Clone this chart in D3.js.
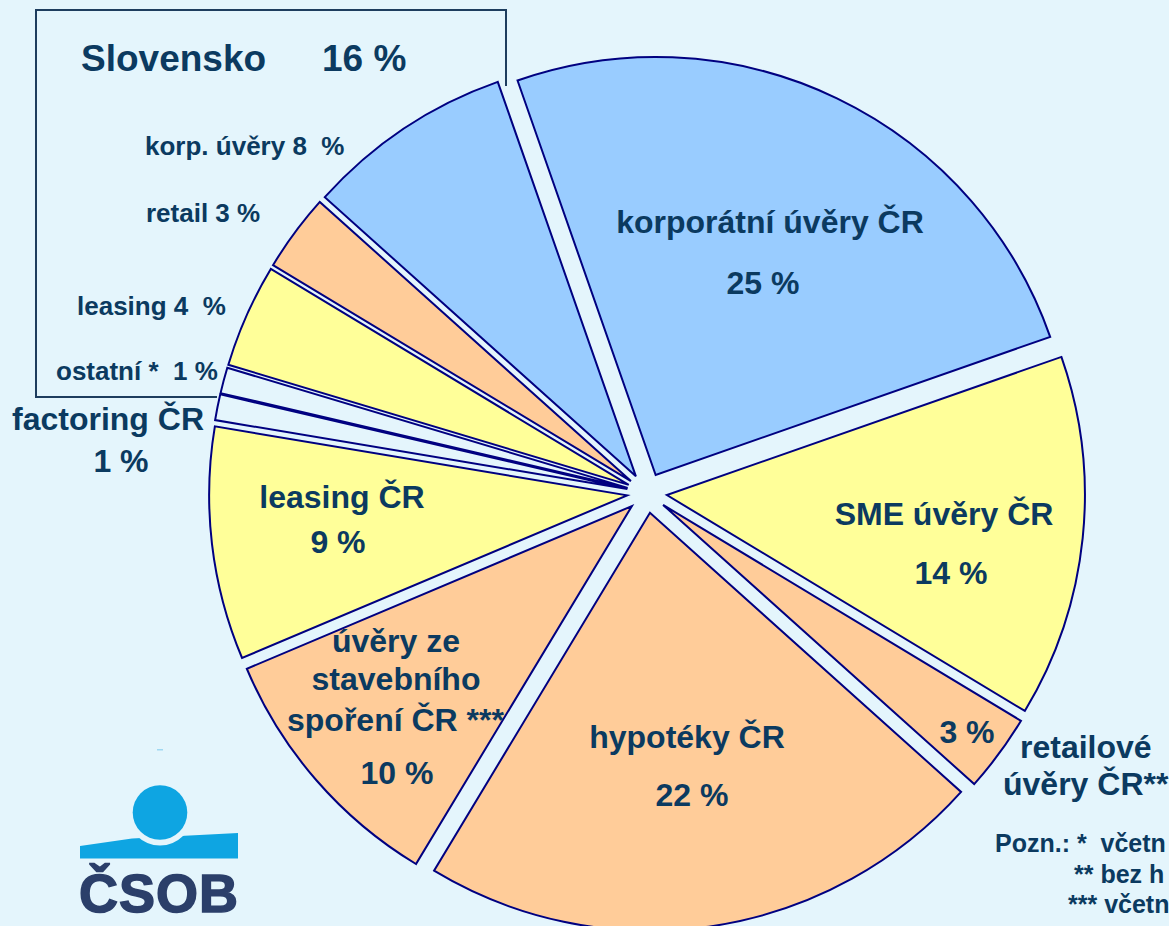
<!DOCTYPE html>
<html>
<head>
<meta charset="utf-8">
<script src="https://cdn.jsdelivr.net/npm/d3@7"></script>
<style>
  body { margin: 0; background: #e4f5fc; }
  svg { display: block; font-family: "Liberation Sans", Arial, sans-serif; font-weight: bold; }
</style>
</head>
<body>
<svg id="chart"></svg>
<script>
// data (order = clockwise from the top)
const categories = [
  'korporátní úvěry ČR', 'SME úvěry ČR', 'retailové úvěry ČR**', 'hypotéky ČR',
  'úvěry ze stavebního spoření ČR ***', 'leasing ČR', 'factoring ČR',
  'ostatní *', 'leasing', 'retail', 'korp. úvěry'
];
const values = [25, 14, 3, 22, 10, 9, 1, 1, 4, 3, 8];
const kinds = ['corp', 'sme', 'retail', 'retail', 'retail', 'leasing', 'other', 'other', 'leasing', 'retail', 'corp'];

// label lines for each slice (same order as values)
const labelLines = [
  ['korporátní úvěry ČR', '25 %'],
  ['SME úvěry ČR', '14 %'],
  ['3 %', 'retailové', 'úvěry ČR**'],
  ['hypotéky ČR', '22 %'],
  ['úvěry ze', 'stavebního', 'spoření ČR ***', '10 %'],
  ['leasing ČR', '9 %'],
  ['factoring ČR', '1 %'],
  ['ostatní *\u00a0\u00a01 %'],
  ['leasing 4\u00a0\u00a0%'],
  ['retail 3 %'],
  ['korp. úvěry 8\u00a0\u00a0%']
];
const groupTitle = ['Slovensko', '16 %'];
// the notes run off the right edge of the slide; only the visible part is kept
const notes = ['Pozn.: *\u00a0\u00a0včetn', '** bez h', '*** včetn'];

const W = 1169, H = 926;
const bg = '#e4f5fc';
const ink = '#0b3a60';
const color = d3.scaleOrdinal()
  .domain(['corp', 'sme', 'retail', 'leasing', 'other'])
  .range(['#99ccff', '#ffff99', '#ffcc99', '#ffff99', bg]);

const cx = 647, cy = 493, radius = 418, explode = 20;
const startAngle = -19.3 * Math.PI / 180;

const svg = d3.select('#chart').attr('width', W).attr('height', H);
svg.append('rect').attr('width', W).attr('height', H).attr('fill', bg);

// box around the Slovak part (drawn behind the pie)
svg.append('path')
  .attr('d', 'M217,397 L36,397 L36,10 L506,10 L506,86')
  .attr('fill', 'none')
  .attr('stroke', '#1d3d5e')
  .attr('stroke-width', 2);

const pie = d3.pie().sort(null).value(d => d)
  .startAngle(startAngle).endAngle(startAngle + 2 * Math.PI);
const arc = d3.arc().innerRadius(0).outerRadius(radius);
const arcs = pie(values);

const g = svg.append('g').attr('transform', `translate(${cx},${cy})`);
g.selectAll('path.slice')
  .data(arcs)
  .enter()
  .append('path')
  .attr('class', 'slice')
  .attr('d', arc)
  .attr('transform', d => {
    const mid = (d.startAngle + d.endAngle) / 2;
    return `translate(${explode * Math.sin(mid)},${-explode * Math.cos(mid)})`;
  })
  .attr('fill', (d, i) => color(kinds[i]))
  .attr('stroke', '#000080')
  .attr('stroke-width', 2)
  .attr('stroke-linejoin', 'miter');

// label placement (x, baseline y, anchor, size) per line, hand-fitted to the picture
const big = 32, small = 26;
const labelPos = [
  [[770, 233, 'middle', big], [763, 294, 'middle', big]],
  [[944, 525, 'middle', big], [951, 584, 'middle', big]],
  [[967, 743, 'middle', big], [1020, 758, 'start', big], [1003, 795, 'start', big]],
  [[687, 748, 'middle', big], [692, 806, 'middle', big]],
  [[396, 652, 'middle', big], [396, 690, 'middle', big], [287, 731, 'start', big], [397, 784, 'middle', big]],
  [[342, 508, 'middle', big], [338, 553, 'middle', big]],
  [[12, 430, 'start', big], [121, 472, 'middle', big]],
  [[56, 380, 'start', small]],
  [[77, 315, 'start', small]],
  [[146, 222, 'start', small]],
  [[145, 155, 'start', small]]
];

const labels = svg.append('g').attr('fill', ink);
labelLines.forEach((lines, i) => {
  lines.forEach((t, j) => {
    const p = labelPos[i][j];
    labels.append('text')
      .attr('x', p[0]).attr('y', p[1])
      .attr('text-anchor', p[2])
      .attr('font-size', p[3])
      .text(t);
  });
});

labels.append('text').attr('x', 81).attr('y', 71).attr('font-size', 37).text(groupTitle[0]);
labels.append('text').attr('x', 322).attr('y', 71).attr('font-size', 37).text(groupTitle[1]);

const notePos = [[995, 852], [1074, 883], [1068, 913]];
notes.forEach((t, i) => {
  labels.append('text')
    .attr('x', notePos[i][0]).attr('y', notePos[i][1])
    .attr('font-size', 25)
    .text(t);
});

// ČSOB logo
const logo = svg.append('g');
logo.append('rect').attr('x', 157).attr('y', 749).attr('width', 6).attr('height', 1.5).attr('fill', '#9fd8f2');
logo.append('path')
  .attr('d', 'M80,846 L132,838.5 L238,833 L238,858.5 L80,858.5 Z')
  .attr('fill', '#0ea5e2');
logo.append('circle').attr('cx', 160).attr('cy', 812.5).attr('r', 33).attr('fill', bg);
logo.append('circle').attr('cx', 160).attr('cy', 812.5).attr('r', 27.3).attr('fill', '#0ea5e2');
logo.append('text')
  .attr('x', 79).attr('y', 912)
  .attr('font-size', 54)
  .attr('letter-spacing', 1)
  .attr('fill', '#2b3f6a')
  .attr('stroke', '#2b3f6a')
  .attr('stroke-width', 1.5)
  .text('ČSOB');
</script>
</body>
</html>
